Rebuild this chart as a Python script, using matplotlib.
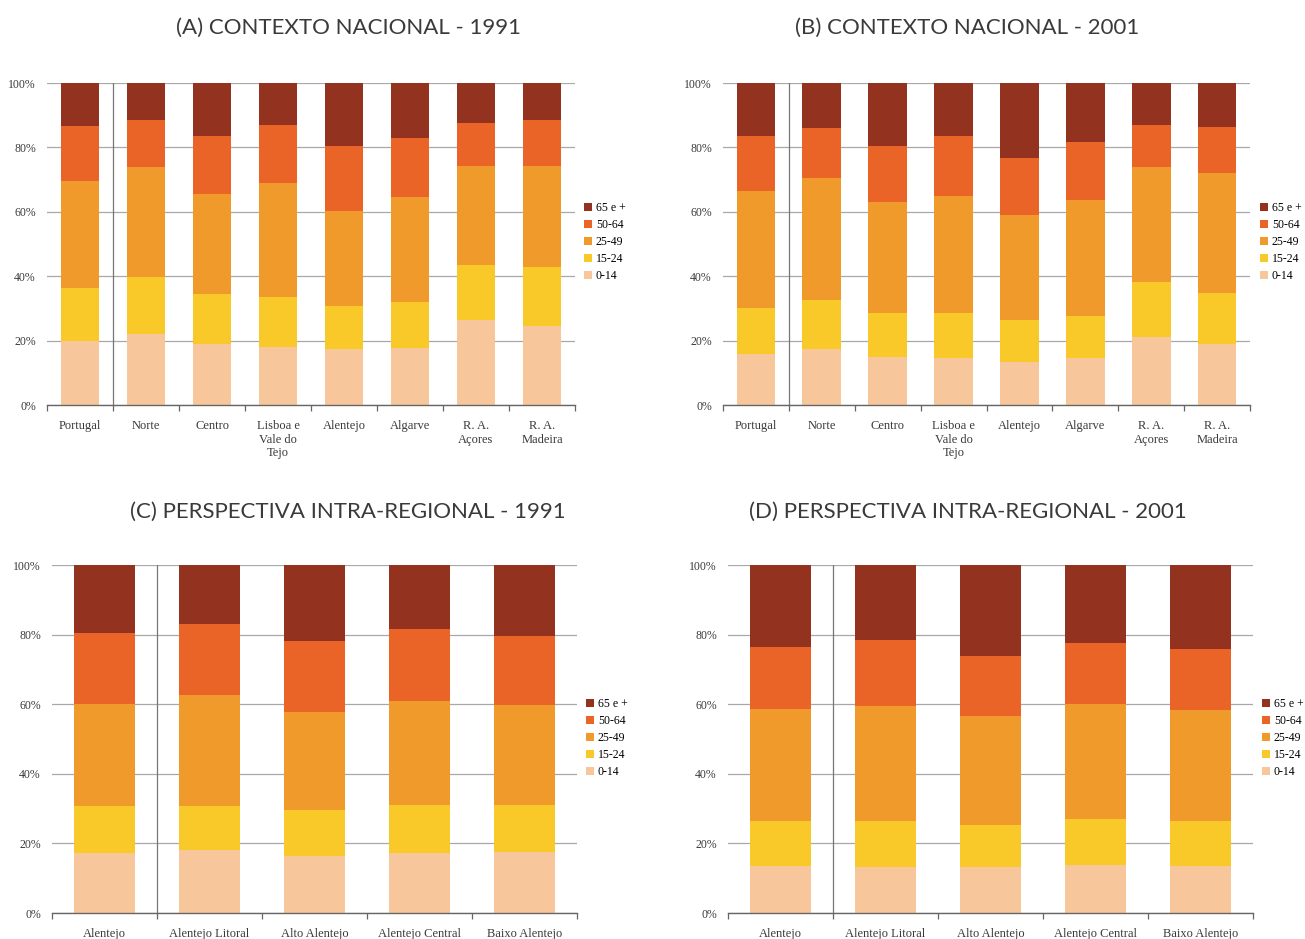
import matplotlib
matplotlib.use("Agg")
import matplotlib.pyplot as plt
from matplotlib.patches import Patch
import numpy as np

# Age groups (bottom to top) and their colours
age_groups = ["0-14", "15-24", "25-49", "50-64", "65 e +"]
colors = ["#F7C69B", "#F8C928", "#EF9A2A", "#EB6427", "#93331F"]

# National context: NUTS II regions
nat_regions = ["Portugal", "Norte", "Centro", "Lisboa e\nVale do\nTejo",
               "Alentejo", "Algarve", "R. A.\nAçores", "R. A.\nMadeira"]
# shares (%) per age group, one list per region
nat_1991 = [
    [19.9, 16.4, 33.4, 16.8, 13.5],
    [21.9, 18.0, 34.0, 14.7, 11.4],
    [18.9, 15.5, 31.1, 17.9, 16.6],
    [17.9, 15.7, 35.3, 18.0, 13.1],
    [17.3, 13.5, 29.5, 20.2, 19.5],
    [17.6, 14.4, 32.7, 18.1, 17.2],
    [26.4, 17.0, 30.7, 13.6, 12.3],
    [24.4, 18.5, 31.2, 14.4, 11.5],
]
nat_2001 = [
    [15.9, 14.3, 36.4, 17.0, 16.4],
    [17.3, 15.3, 38.0, 15.4, 14.0],
    [14.8, 13.9, 34.3, 17.5, 19.5],
    [14.7, 13.8, 36.5, 18.6, 16.4],
    [13.5, 12.9, 32.5, 17.7, 23.4],
    [14.5, 13.2, 36.0, 17.9, 18.4],
    [21.2, 17.1, 35.6, 13.1, 13.0],
    [19.0, 15.9, 37.1, 14.3, 13.7],
]

# Intra-regional perspective: NUTS III of Alentejo
reg_regions = ["Alentejo", "Alentejo Litoral", "Alto Alentejo",
               "Alentejo Central", "Baixo Alentejo"]
reg_1991 = [
    [17.2, 13.6, 29.4, 20.3, 19.5],
    [18.2, 12.6, 31.9, 20.4, 16.9],
    [16.3, 13.2, 28.3, 20.3, 21.9],
    [17.2, 13.8, 30.0, 20.6, 18.4],
    [17.4, 13.6, 28.7, 20.0, 20.3],
]
reg_2001 = [
    [13.4, 12.9, 32.4, 17.7, 23.6],
    [13.1, 13.2, 33.1, 19.0, 21.6],
    [13.1, 12.3, 31.1, 17.4, 26.1],
    [13.9, 13.1, 33.1, 17.5, 22.4],
    [13.6, 12.7, 32.1, 17.6, 24.0],
]

titles = ["(A) CONTEXTO NACIONAL - 1991", "(B) CONTEXTO NACIONAL - 2001",
          "(C) PERSPECTIVA INTRA-REGIONAL - 1991",
          "(D) PERSPECTIVA INTRA-REGIONAL - 2001"]

W, H = 1305, 939
fig = plt.figure(figsize=(W / 100, H / 100), dpi=100)

serif = ["Liberation Serif", "DejaVu Serif"]
title_font = ["Lato", "DejaVu Sans"]


def px_axes(left, right, top, bottom):
    return fig.add_axes([left / W, 1 - bottom / H, (right - left) / W,
                         (bottom - top) / H])


def draw_panel(ax, cats, data, legend_xy):
    vals = np.array(data).T
    x = np.arange(len(cats))
    bottom = np.zeros(len(cats))
    for k, grp in enumerate(age_groups):
        ax.bar(x, vals[k], width=0.59, bottom=bottom, color=colors[k],
               edgecolor="none", zorder=2)
        bottom += vals[k]
    ax.set_xlim(-0.5, len(cats) - 0.5)
    ax.set_ylim(0, 100)
    ax.set_yticks(np.arange(0, 101, 20))
    ax.set_yticklabels([f"{v}%" for v in range(0, 101, 20)],
                       family=serif, fontsize=8.5, color="#3a3a3a")
    ax.tick_params(axis="y", length=0, pad=8)
    ax.yaxis.grid(True, color="#A8A8A8", lw=0.9, zorder=0)
    ax.set_axisbelow(True)
    ax.set_xticks(x)
    ax.set_xticklabels(cats, family=serif, fontsize=9, color="#3a3a3a",
                       linespacing=1.15)
    ax.tick_params(axis="x", which="major", length=0, pad=11)
    ax.set_xticks(np.arange(-0.5, len(cats)), minor=True)
    ax.tick_params(axis="x", which="minor", length=4, color="#666666",
                   width=0.9, direction="out")
    for s in ["top", "right", "left"]:
        ax.spines[s].set_visible(False)
    ax.spines["bottom"].set_color("#666666")
    ax.spines["bottom"].set_linewidth(1.0)
    # separator between the reference unit and its subdivisions
    ax.axvline(0.5, color="#777777", lw=0.9, zorder=1)

    handles = [Patch(facecolor=colors[k], edgecolor="none", label=age_groups[k])
               for k in range(len(age_groups) - 1, -1, -1)]
    ax.legend(handles=handles, loc="center left",
              bbox_to_anchor=(legend_xy[0] / W, 1 - legend_xy[1] / H),
              bbox_transform=fig.transFigure, frameon=False,
              prop={"family": serif, "size": 8.5},
              handlelength=0.7, handleheight=0.7, handletextpad=0.3,
              labelspacing=0.42, borderaxespad=0, borderpad=0)


axA = px_axes(47, 575, 83, 405)
draw_panel(axA, nat_regions, nat_1991, (584, 242))
axB = px_axes(723, 1250, 83, 405)
draw_panel(axB, nat_regions, nat_2001, (1260, 242))
axC = px_axes(52, 577, 565, 913)
draw_panel(axC, reg_regions, reg_1991, (586, 738))
axD = px_axes(728, 1253, 565, 913)
draw_panel(axD, reg_regions, reg_2001, (1262, 738))

title_pos = [(348, 28), (967, 28), (348, 512), (968, 512)]
for t, (tx, ty) in zip(titles, title_pos):
    fig.text(tx / W, 1 - ty / H, t, ha="center", va="center",
             family=title_font, fontsize=16, fontweight="normal",
             color="#3a3a3a")

fig.savefig("out.png", dpi=100, facecolor="white")
